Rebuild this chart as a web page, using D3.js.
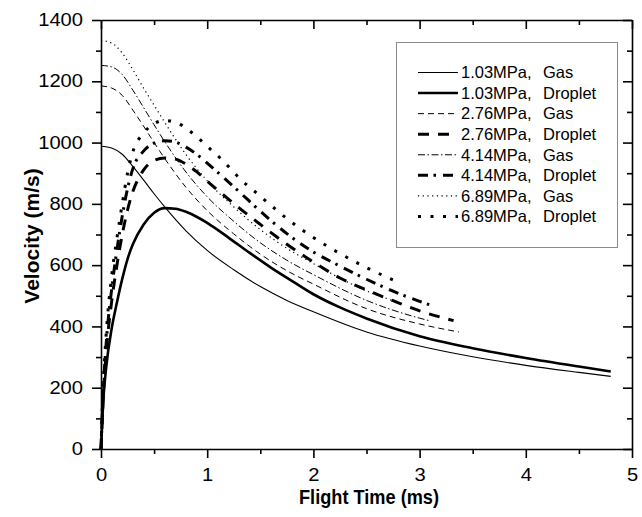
<!DOCTYPE html>
<html><head><meta charset="utf-8">
<script src="https://cdn.jsdelivr.net/npm/d3@7"></script>
<style>
body{margin:0;background:#fff}
svg{display:block}
text{font-family:"Liberation Sans",Arial,sans-serif;fill:#000}
</style>
</head><body>
<svg id="c" width="642" height="517"></svg>
<script>
// ---------- DATA ----------
const pressures = ["1.03MPa,", "1.03MPa,", "2.76MPa,", "2.76MPa,", "4.14MPa,", "4.14MPa,", "6.89MPa,", "6.89MPa,"];
const phases = ["Gas", "Droplet", "Gas", "Droplet", "Gas", "Droplet", "Gas", "Droplet"];

const gas103_t = [0,0.1,0.2,0.3,0.4,0.5,0.6,0.8,1.0,1.25,1.5,1.75,2.0,2.5,3.0,3.5,4.0,4.5,4.8];
const gas103_v = [988,982,962,922,878,833,790,712,648,585,530,485,448,382,336,301,273,250,237];

const drop103_t = [0,0.02,0.05,0.1,0.15,0.2,0.25,0.3,0.4,0.5,0.6,0.7,0.8,0.9,1.0,1.2,1.4,1.6,1.8,2.0,2.25,2.5,3.0,3.5,4.0,4.5,4.8];
const drop103_v = [0,150,270,392,478,555,620,668,732,771,786,784,774,758,738,690,640,592,548,505,462,426,368,329,297,269,253];

const gas276_t = [0,0.1,0.2,0.3,0.4,0.5,0.6,0.8,1.0,1.25,1.5,1.75,2.0,2.5,3.0,3.37];
const gas276_v = [1185,1178,1154,1106,1054,1000,948,854,778,702,636,582,538,458,408,382];

const drop276_t = [0,0.02,0.05,0.1,0.15,0.2,0.25,0.3,0.4,0.5,0.6,0.7,0.8,0.9,1.0,1.15,1.3,1.5,1.75,2.0,2.25,2.5,2.75,3.0,3.32];
const drop276_v = [0,160,320,480,600,700,780,840,910,942,950,946,930,905,874,830,787,733,668,610,558,519,484,451,419];

const gas414_t = [0,0.1,0.2,0.3,0.4,0.5,0.6,0.8,1.0,1.25,1.5,1.75,2.0,2.5,3.0,3.1];
const gas414_v = [1252,1247,1222,1171,1115,1058,1003,904,823,743,673,616,569,485,427,418];

const drop414_t = [0,0.02,0.05,0.1,0.15,0.2,0.25,0.3,0.4,0.5,0.6,0.7,0.8,0.9,1.0,1.15,1.3,1.5,1.75,2.0,2.25,2.5,2.75,3.0,3.1];
const drop414_v = [0,180,350,520,650,760,850,915,972,998,1006,1002,985,962,933,887,840,776,703,643,597,554,515,482,470];

const gas689_t = [0,0.1,0.2,0.3,0.4,0.5,0.6,0.8,1.0,1.25,1.5,1.75,2.0,2.5,2.8];
const gas689_v = [1333,1325,1292,1238,1178,1122,1066,961,875,790,716,655,605,516,478];

const drop689_t = [0,0.02,0.05,0.1,0.15,0.2,0.25,0.3,0.4,0.5,0.6,0.7,0.8,0.9,1.0,1.15,1.3,1.5,1.75,2.0,2.25,2.5,2.78];
const drop689_v = [0,200,380,563,688,800,900,970,1030,1062,1072,1067,1047,1020,988,940,885,825,752,690,638,592,547];

const xMajor = [0,1,2,3,4,5];
const xMinor = [0.5,1.5,2.5,3.5,4.5];
const yMajor = [0,200,400,600,800,1000,1200,1400];
const yMinor = [100,300,500,700,900,1100,1300];

const seriesT = [gas103_t, drop103_t, gas276_t, drop276_t, gas414_t, drop414_t, gas689_t, drop689_t];
const seriesV = [gas103_v, drop103_v, gas276_v, drop276_v, gas414_v, drop414_v, gas689_v, drop689_v];

// ---------- STYLES ----------
const styles = [
  {w:1.1, dash:null},
  {w:2.6, dash:null},
  {w:1,   dash:"6,4"},
  {w:3,   dash:"11,9"},
  {w:1,   dash:"7,2.5,1.5,2.5"},
  {w:3,   dash:"10,5.5,2.5,7"},
  {w:1.2, dash:"1.2,3.5"},
  {w:3,   dash:"3,9.5"}
];

// ---------- CHART ----------
const W = 642, H = 517;
const L = 101, R = 632, T = 20, B = 449;
const x = d3.scaleLinear().domain([0,5]).range([L,R]);
const y = d3.scaleLinear().domain([0,1400]).range([B,T]);
const svg = d3.select("#c");
svg.append("rect").attr("width",W).attr("height",H).attr("fill","#fff");

const line = d3.line().x(d=>x(d[0])).y(d=>y(d[1])).curve(d3.curveMonotoneX);
const plot = svg.append("g");
seriesT.forEach((ts,i)=>{
  const st = styles[i];
  plot.append("path")
    .datum(d3.zip(ts, seriesV[i]))
    .attr("d", line)
    .attr("fill","none")
    .attr("stroke","#000")
    .attr("stroke-width", st.w)
    .attr("stroke-dasharray", st.dash)
    .attr("stroke-linejoin","round");
});

// ---------- AXES ----------
const AW = 1.6;
function styleAxis(g){
  g.selectAll("path.domain").attr("stroke","#000").attr("stroke-width",AW);
  g.selectAll(".tick line").attr("stroke","#000").attr("stroke-width",AW);
}
function styleLabels(g){
  g.selectAll("text").attr("font-size",17.5).attr("font-family","Liberation Sans, Arial, sans-serif")
    .attr("textLength", d=>String(d).length*11.2).attr("lengthAdjust","spacingAndGlyphs");
}
// bottom
const gb = svg.append("g").attr("transform",`translate(0,${B})`)
  .call(d3.axisBottom(x).tickValues(xMajor).tickSize(9).tickSizeOuter(0).tickPadding(11).tickFormat(d3.format("d")));
styleAxis(gb); styleLabels(gb);
const gbm = svg.append("g").attr("transform",`translate(0,${B})`)
  .call(d3.axisBottom(x).tickValues(xMinor).tickSize(5).tickSizeOuter(0).tickFormat(""));
styleAxis(gbm); gbm.select("path.domain").remove();
// left
const gl = svg.append("g").attr("transform",`translate(${L},0)`)
  .call(d3.axisLeft(y).tickValues(yMajor).tickSize(9).tickSizeOuter(0).tickPadding(9).tickFormat(d3.format("d")));
styleAxis(gl); styleLabels(gl);
const glm = svg.append("g").attr("transform",`translate(${L},0)`)
  .call(d3.axisLeft(y).tickValues(yMinor).tickSize(5).tickSizeOuter(0).tickFormat(""));
styleAxis(glm); glm.select("path.domain").remove();
// top (inward)
const gt = svg.append("g").attr("transform",`translate(0,${T})`)
  .call(d3.axisBottom(x).tickValues(xMajor).tickSize(9).tickSizeOuter(0).tickFormat(""));
styleAxis(gt);
const gtm = svg.append("g").attr("transform",`translate(0,${T})`)
  .call(d3.axisBottom(x).tickValues(xMinor).tickSize(5).tickSizeOuter(0).tickFormat(""));
styleAxis(gtm); gtm.select("path.domain").remove();
// right (inward)
const gr = svg.append("g").attr("transform",`translate(${R},0)`)
  .call(d3.axisLeft(y).tickValues(yMajor).tickSize(9).tickSizeOuter(0).tickFormat(""));
styleAxis(gr);
const grm = svg.append("g").attr("transform",`translate(${R},0)`)
  .call(d3.axisLeft(y).tickValues(yMinor).tickSize(5).tickSizeOuter(0).tickFormat(""));
styleAxis(grm); grm.select("path.domain").remove();

// axis titles
svg.append("text").attr("x",369).attr("y",504).attr("text-anchor","middle")
  .attr("font-size",21).attr("font-weight","bold")
  .attr("textLength",140).attr("lengthAdjust","spacingAndGlyphs")
  .text("Flight Time (ms)");
svg.append("text").attr("transform","translate(39,236) rotate(-90)").attr("text-anchor","middle")
  .attr("font-size",21).attr("font-weight","bold")
  .text("Velocity (m/s)");

// ---------- LEGEND ----------
const lg = svg.append("g");
lg.append("rect").attr("x",396.5).attr("y",42.5).attr("width",221).attr("height",205)
  .attr("fill","#fff").attr("stroke","#8a8a8a").attr("stroke-width",1);
const rowY = d3.scaleLinear().domain([0,7]).range([72.5,216.5]);
pressures.forEach((p,i)=>{
  const st = styles[i];
  const yy = rowY(i);
  lg.append("line").attr("x1",418).attr("x2",458).attr("y1",yy).attr("y2",yy)
    .attr("stroke","#000").attr("stroke-width",st.w).attr("stroke-dasharray",st.dash);
  lg.append("text").attr("x",461).attr("y",yy+5.8).attr("font-size",16.5).text(p);
  lg.append("text").attr("x",543).attr("y",yy+5.8).attr("font-size",16.5).text(phases[i]);
});
</script>
</body></html>
